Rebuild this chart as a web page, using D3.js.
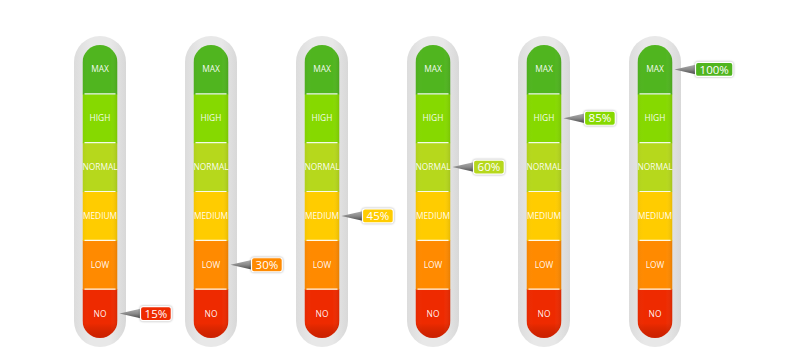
<!DOCTYPE html>
<html>
<head>
<meta charset="utf-8">
<script src="https://cdn.jsdelivr.net/npm/d3@7"></script>
<style>
  html, body { margin: 0; padding: 0; background: #fff; }
  svg { display: block; }
</style>
</head>
<body>
<svg id="chart" width="795" height="363"></svg>
<script>
// ---- data ----
const levels = ["NO", "LOW", "MEDIUM", "NORMAL", "HIGH", "MAX"];
const levelColors = ["#ee2a00", "#ff8a00", "#ffcc00", "#b6d81c", "#86d900", "#50b51f"];
const levelThresholds = [20, 40, 55, 75, 95];
const gauges = ["g1", "g2", "g3", "g4", "g5", "g6"];
const values = [15, 30, 45, 60, 85, 100];

// ---- layout ----
const svg = d3.select("#chart");
const innerTop = 45, innerBottom = 338;
const innerW = 35, outerW = 52, outerPad = 9;

const x = d3.scalePoint().domain(gauges).range([100, 655]);
const y = d3.scaleBand().domain(levels.slice().reverse()).range([innerTop, innerBottom]).padding(0);
const levelOf = d3.scaleThreshold().domain(levelThresholds).range(levels);
const color = d3.scaleOrdinal().domain(levels).range(levelColors);

const defs = svg.append("defs");

const pg = defs.append("linearGradient").attr("id", "ptr").attr("x1", 0).attr("y1", 0).attr("x2", 0).attr("y2", 1);
pg.append("stop").attr("offset", "0%").attr("stop-color", "#b0b0b0");
pg.append("stop").attr("offset", "50%").attr("stop-color", "#8a8a8a");
pg.append("stop").attr("offset", "100%").attr("stop-color", "#4a4a4a");

const og = defs.append("linearGradient").attr("id", "outer").attr("x1", 0).attr("y1", 0).attr("x2", 1).attr("y2", 0);
og.append("stop").attr("offset", "0%").attr("stop-color", "#dcdcdc");
og.append("stop").attr("offset", "30%").attr("stop-color", "#e8e8e8");
og.append("stop").attr("offset", "70%").attr("stop-color", "#e8e8e8");
og.append("stop").attr("offset", "100%").attr("stop-color", "#d8d8d8");

const sg = defs.append("linearGradient").attr("id", "shade").attr("x1", 0).attr("y1", 0).attr("x2", 1).attr("y2", 0);
sg.append("stop").attr("offset", "0%").attr("stop-color", "#000").attr("stop-opacity", 0.04);
sg.append("stop").attr("offset", "20%").attr("stop-color", "#fff").attr("stop-opacity", 0.0);
sg.append("stop").attr("offset", "80%").attr("stop-color", "#fff").attr("stop-opacity", 0.0);
sg.append("stop").attr("offset", "100%").attr("stop-color", "#000").attr("stop-opacity", 0.10);

const bg = defs.append("linearGradient").attr("id", "bottomShade").attr("x1", 0).attr("y1", 0).attr("x2", 0).attr("y2", 1);
bg.append("stop").attr("offset", "0%").attr("stop-color", "#000").attr("stop-opacity", 0);
bg.append("stop").attr("offset", "70%").attr("stop-color", "#000").attr("stop-opacity", 0);
bg.append("stop").attr("offset", "100%").attr("stop-color", "#600").attr("stop-opacity", 0.25);

const g = svg.selectAll("g.gauge").data(gauges).join("g")
  .attr("class", "gauge")
  .attr("transform", d => `translate(${x(d)},0)`);

g.each(function(d, i) {
  defs.append("clipPath").attr("id", "clip" + i)
    .append("rect")
    .attr("x", -innerW / 2).attr("y", innerTop)
    .attr("width", innerW).attr("height", innerBottom - innerTop)
    .attr("rx", innerW / 2).attr("ry", innerW / 2);
});

g.append("rect")
  .attr("x", -outerW / 2).attr("y", innerTop - outerPad)
  .attr("width", outerW).attr("height", innerBottom - innerTop + outerPad * 2)
  .attr("rx", outerW / 2).attr("ry", outerW / 2)
  .attr("fill", "url(#outer)");

const inner = g.append("g").attr("clip-path", (d, i) => `url(#clip${i})`);

inner.selectAll("rect.seg").data(levels).join("rect")
  .attr("class", "seg")
  .attr("x", -innerW / 2)
  .attr("y", l => y(l))
  .attr("width", innerW)
  .attr("height", y.bandwidth() + 0.5)
  .attr("fill", l => color(l));

inner.append("rect")
  .attr("x", -innerW / 2).attr("y", innerTop)
  .attr("width", innerW).attr("height", innerBottom - innerTop)
  .attr("fill", "url(#shade)");

inner.append("rect")
  .attr("x", -innerW / 2).attr("y", y("NO"))
  .attr("width", innerW).attr("height", y.bandwidth())
  .attr("fill", "url(#bottomShade)");

inner.selectAll("line.sep").data(levels.slice(0, -1)).join("line")
  .attr("class", "sep")
  .attr("x1", -innerW / 2 + 2).attr("x2", innerW / 2 - 2)
  .attr("y1", l => y(l)).attr("y2", l => y(l))
  .attr("stroke", "#fff").attr("stroke-opacity", 0.9).attr("stroke-width", 1.2);

g.selectAll("text.lvl").data(levels).join("text")
  .attr("class", "lvl")
  .attr("x", 0)
  .attr("y", l => y(l) + y.bandwidth() / 2)
  .attr("dy", "0.35em")
  .attr("text-anchor", "middle")
  .attr("font-family", "'Open Sans', 'DejaVu Sans', sans-serif")
  .attr("font-size", 8.4)
  .attr("fill", "#fff")
  .attr("fill-opacity", 0.95)
  .text(l => l);

const boxH = 14;
g.each(function(d, i) {
  const sel = d3.select(this);
  const v = values[i];
  const lvl = levelOf(v);
  const cy = y(lvl) + y.bandwidth() / 2;
  const tipX = innerW / 2 + 2;
  const boxX = innerW / 2 + 23;
  const label = v + "%";
  const boxW = label.length * 6.6 + 11;

  sel.append("path")
    .attr("d", `M${tipX},${cy} L${boxX + 1},${cy - 5} L${boxX + 1},${cy + 5} Z`)
    .attr("fill", "url(#ptr)");

  sel.append("rect")
    .attr("x", boxX).attr("y", cy - boxH / 2)
    .attr("width", boxW).attr("height", boxH)
    .attr("rx", 2.5).attr("ry", 2.5)
    .attr("fill", color(lvl))
    .attr("stroke", "#fff").attr("stroke-width", 1.2)
    .style("filter", "drop-shadow(0px 0px 1px rgba(0,0,0,0.35))");

  sel.append("text")
    .attr("x", boxX + boxW / 2).attr("y", cy)
    .attr("dy", "0.36em")
    .attr("text-anchor", "middle")
    .attr("font-family", "'Open Sans', 'DejaVu Sans', sans-serif")
    .attr("font-size", 11.5)
    .attr("fill", "#fff")
    .text(label);
});
</script>
</body>
</html>
